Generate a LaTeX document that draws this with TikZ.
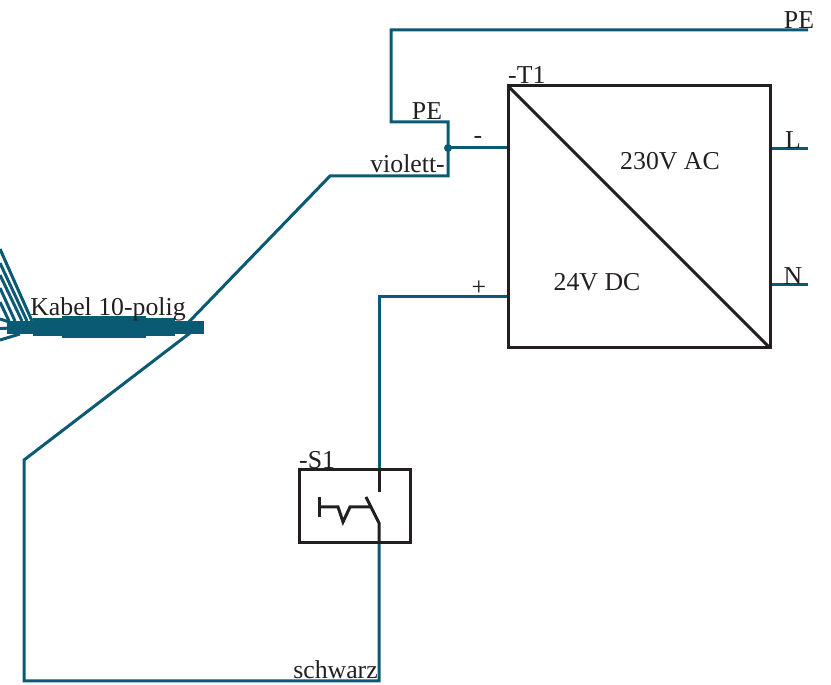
\documentclass[tikz,border=0pt]{standalone}
\usepackage{fontspec}
\setmainfont{Liberation Serif}
\usepackage{tikz}
\usetikzlibrary{calc}

\definecolor{wire}{RGB}{10,90,115}
\definecolor{ink}{RGB}{35,31,32}

\tikzset{
    wireline/.style={draw=wire,line width=0.09cm,line join=miter},
    symline/.style={draw=ink,line width=0.09cm},
    lab/.style={text=ink,font=\fontsize{22}{22}\selectfont,inner sep=0pt}
}

\begin{document}
\begin{tikzpicture}[x=0.03cm,y=-0.03cm]

% page size
\useasboundingbox (0,0) rectangle (831,685);

% cable bundle
\fill[wire] (7,321) rectangle (204,334);
\fill[wire] (33,318) rectangle (175,336);
\fill[wire] (62,316) rectangle (146,338);

% fan of conductors
\foreach \ytop/\xend in {249/32,263/27,275/22,288/15,302/9}
{
    \draw[wireline] (0,\ytop) -- (\xend,321);
}
\draw[wireline] (0,319) -- (12,323);
\draw[wireline] (0,328.5) -- (12,328);
\draw[wireline] (0,340) -- (20,334);

% named points
\coordinate (TL) at (508,86);
\coordinate (BR) at (770,348);
\coordinate (J) at (448,148);
\coordinate (Sin) at (379,543);
\coordinate (Sout) at (379,470);

% wires
\draw[wireline] (808,30) -- (391,30) -- (391,122) -- (448,122) -- (448,176) -- (330,176) -- (184,327);
\draw[wireline] (J) -- (508,148);
\fill[wire] (J) circle (4);
\draw[wireline] (190,333) -- (24,460) -- (24,681) -- (379,681) -- (Sin);
\draw[wireline] (Sout) -- (379,297) -- (508,297);
\draw[wireline] (770,149) -- (808,149);
\draw[wireline] (770,285) -- (808,285);

% converter
\draw[symline] (TL) rectangle (BR);
\draw[symline] (TL) -- (BR);

% switch
\draw[symline] (299,470) rectangle (410,543);
\draw[symline] (Sout) -- (379,492);
\draw[symline] (Sin) -- (379,523) -- (366,497);
\draw[symline] (319,497) -- (319,517);
\draw[symline] (319,507) -- (338,507) -- (343,522) -- (350,507) -- (371,507);

% labels
\node[lab,anchor=base] at (799,29) {PE};
\node[lab,anchor=base] at (793,149) {L};
\node[lab,anchor=base] at (793,285) {N};
\node[lab,anchor=base west] at (508,84) {-T1};
\node[lab,anchor=base] at (427,120) {PE};
\node[lab,anchor=base] at (478,144) {-};
\node[lab,anchor=base east] at (445,173) {violett-};
\node[lab,anchor=base] at (670,170) {230V AC};
\node[lab,anchor=base] at (597,291) {24V DC};
\node[lab,anchor=base] at (479,296) {+};
\node[lab,anchor=base] at (108,316) {Kabel 10-polig};
\node[lab,anchor=base west] at (299,469) {-S1};
\node[lab,anchor=base east] at (378,679) {schwarz};

\end{tikzpicture}
\end{document}
